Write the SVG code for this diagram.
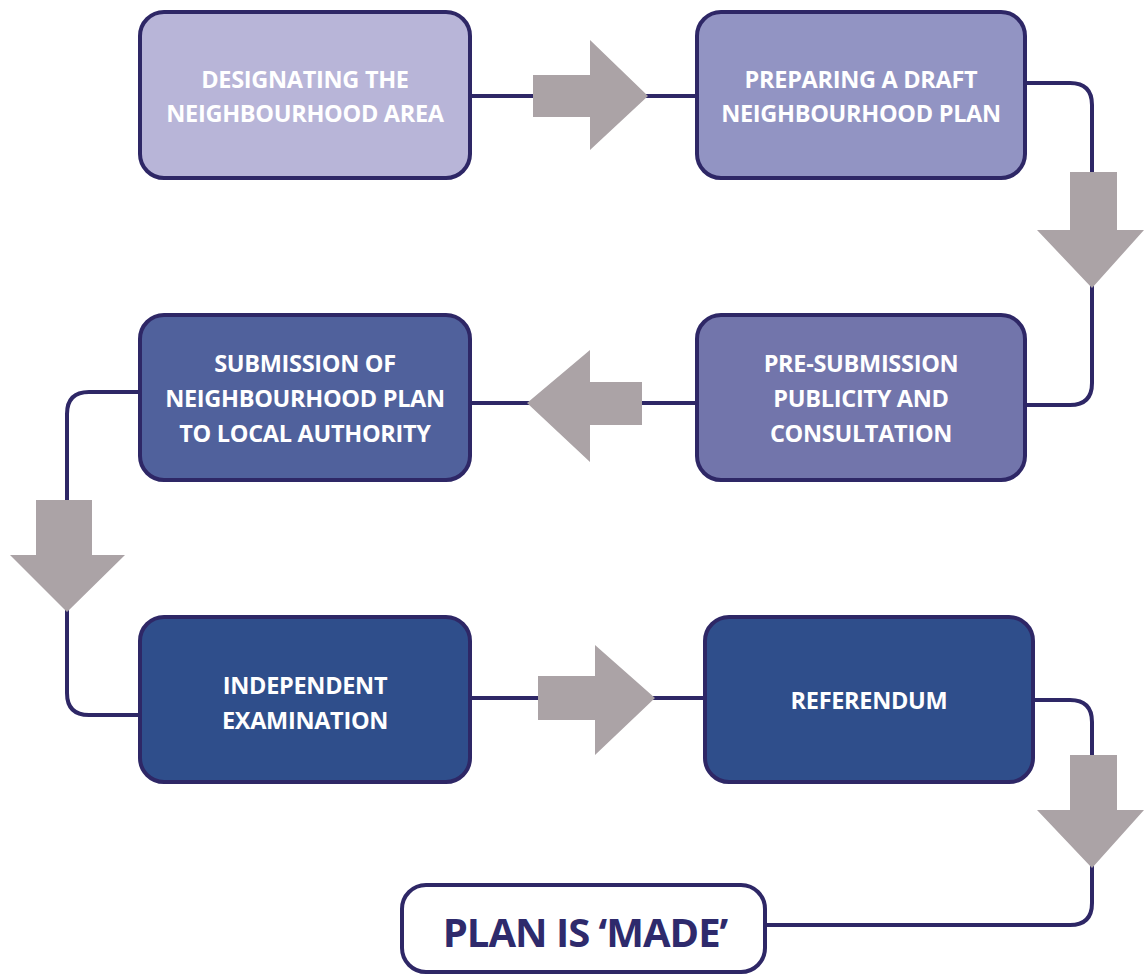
<svg xmlns="http://www.w3.org/2000/svg" width="1144" height="975" viewBox="0 0 1144 975">
<style>
.box{stroke:#2e2766;stroke-width:4}
.t{font-family:"Open Sans","Noto Sans",sans-serif;font-weight:700;font-size:23.5px;fill:#ffffff;text-anchor:middle;letter-spacing:-0.3px}
.c{fill:none;stroke:#2e2766;stroke-width:4}
.ar{fill:#aba3a6}
</style>
<rect width="1144" height="975" fill="#ffffff"/>
<g id="connectors">
<path class="c" d="M470 96 H697"/>
<path class="c" d="M1025 83 H1070 Q1092 83 1092 105 V383 Q1092 405 1070 405 H1025"/>
<path class="c" d="M470 403 H697"/>
<path class="c" d="M140 392 H89 Q67 392 67 414 V693 Q67 715 89 715 H140"/>
<path class="c" d="M470 698 H705"/>
<path class="c" d="M1033 700 H1070 Q1092 700 1092 722 V903 Q1092 925 1070 925 H765"/>
<polygon class="ar" points="533,75 590,75 590,40 648,96 590,150 590,117 533,117"/>
<polygon class="ar" points="1070,172 1117,172 1117,230 1144,230 1092,288 1037,230 1070,230"/>
<polygon class="ar" points="642,382 590,382 590,350 527,403 590,462 590,425 642,425"/>
<polygon class="ar" points="36,500 92,500 92,555 125,555 67,612 10,555 36,555"/>
<polygon class="ar" points="538,676 595,676 595,645 655,698 595,755 595,720 538,720"/>
<polygon class="ar" points="1070,755 1117,755 1117,810 1144,810 1092,868 1037,810 1070,810"/>
</g>
<g id="n1">
<rect class="box" x="140" y="12" width="330" height="166" rx="24" fill="#b8b5d8"/>
<text class="t" x="305" y="88">DESIGNATING THE</text>
<text class="t" x="305" y="122">NEIGHBOURHOOD AREA</text>
</g>
<g id="n2">
<rect class="box" x="697" y="12" width="328" height="166" rx="24" fill="#9294c3"/>
<text class="t" x="861" y="88">PREPARING A DRAFT</text>
<text class="t" x="861" y="122">NEIGHBOURHOOD PLAN</text>
</g>
<g id="n3">
<rect class="box" x="697" y="315" width="328" height="165" rx="24" fill="#7275ab"/>
<text class="t" x="861" y="372">PRE-SUBMISSION</text>
<text class="t" x="861" y="407">PUBLICITY AND</text>
<text class="t" x="861" y="442">CONSULTATION</text>
</g>
<g id="n4">
<rect class="box" x="140" y="315" width="330" height="165" rx="24" fill="#50619c"/>
<text class="t" x="305" y="372">SUBMISSION OF</text>
<text class="t" x="305" y="407">NEIGHBOURHOOD PLAN</text>
<text class="t" x="305" y="442">TO LOCAL AUTHORITY</text>
</g>
<g id="n5">
<rect class="box" x="140" y="617" width="330" height="165" rx="24" fill="#2f4e8b"/>
<text class="t" x="305" y="694">INDEPENDENT</text>
<text class="t" x="305" y="729">EXAMINATION</text>
</g>
<g id="n6">
<rect class="box" x="705" y="617" width="328" height="165" rx="24" fill="#2f4e8b"/>
<text class="t" x="869" y="709">REFERENDUM</text>
</g>
<g id="n7">
<rect class="box" x="402" y="885" width="363" height="87" rx="24" fill="#ffffff"/>
<text x="585" y="947" style="font-family:'Open Sans','Noto Sans',sans-serif;font-weight:700;font-size:40px;fill:#2e2a6c;text-anchor:middle;letter-spacing:-1px">PLAN IS ‘MADE’</text>
</g>
</svg>
